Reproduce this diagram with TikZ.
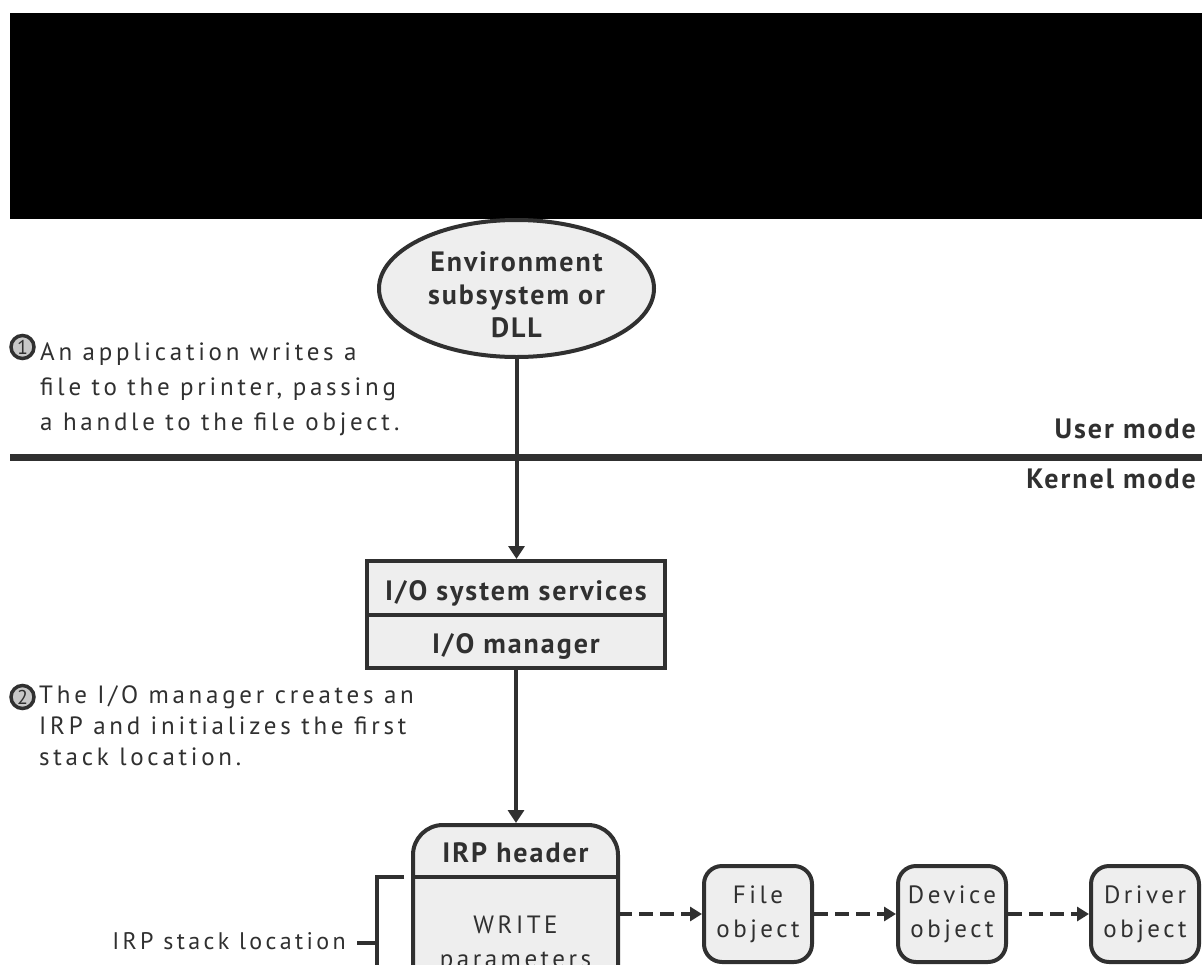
\documentclass[tikz,border=0pt]{standalone}
\usepackage{fontspec}
\setmainfont{PT Sans}[LetterSpace=7]
\newfontfamily\regfont[LetterSpace=14]{PT Sans}
\newfontfamily\stepfont[LetterSpace=15]{PT Sans}
\usetikzlibrary{arrows.meta,shapes.geometric}
\definecolor{ink}{HTML}{303030}
\definecolor{boxfill}{HTML}{EEEEEE}
\definecolor{stepfill}{HTML}{C8C8C8}
\begin{document}
\begin{tikzpicture}[x=1pt,y=-1pt,
  every node/.style={inner sep=0pt, text=ink},
  bfont/.style={font=\fontsize{28}{33}\selectfont\bfseries},
  rfont/.style={font=\regfont\fontsize{24}{35}\selectfont},
  sfont/.style={font=\stepfont\fontsize{25}{35}\selectfont},
  ofont/.style={font=\regfont\fontsize{25}{34}\selectfont},
  ln/.style={draw=ink, line width=4pt},
  iobox/.style={ln, fill=boxfill, rectangle, minimum width=298pt},
  objbox/.style={ln, fill=boxfill, rectangle, rounded corners=18pt, minimum width=108pt, minimum height=96pt, align=center, ofont},
  arr/.style={ln, -{Triangle[length=13pt,width=16pt]}},
  darr/.style={ln, dash pattern=on 14pt off 7pt, -{Triangle[length=12pt,width=14pt]}},
  stepcirc/.style={circle, draw=ink, line width=3.5pt, fill=stepfill, minimum size=23pt, font=\fontsize{20}{20}\selectfont}
]
\useasboundingbox (0,0) rectangle (1202,964);
\fill[white] (0,0) rectangle (1202,964);
% top black band
\fill[black] (10,13) rectangle (1202,219);

% environment subsystem ellipse
\node[ellipse, ln, fill=boxfill, minimum width=275pt, minimum height=137pt] (env) at (516.5,288.5) {};
\node[bfont, align=center, anchor=base] (envtxt) at (516.5,337) {Environment\\subsystem or\\DLL};

% mode separator
\coordinate (sepL) at (10,457);
\coordinate (sepR) at (1202,457);
\draw[draw=ink, line width=7pt] (sepL) -- (sepR);
\node[bfont, anchor=base east] (umode) at (1196,438) {User mode};
\node[bfont, anchor=base east] (kmode) at (1196,488) {Kernel mode};

% I/O boxes
\node[iobox, minimum height=54pt] (iosvc) at (516,588) {};
\node[iobox, minimum height=53pt] (iomgr) at (516,641.5) {};
\node[bfont, anchor=base] (iosvctxt) at (516,600) {I/O system services};
\node[bfont, anchor=base] (iomgrtxt) at (516,653) {I/O manager};

\draw[arr] (env.south) -- (env.south |- iosvc.north);

% IRP
\node[ln, fill=boxfill, rectangle, rounded corners=30pt, minimum width=205pt, minimum height=260pt, anchor=north] (irp) at (515.5,823) {};
\coordinate (divL) at (413,877);
\coordinate (divR) at (618,877);
\draw[ln] (divL) -- (divR);
\node[bfont, anchor=base] (irphdr) at (515.5,862) {IRP header};
\node[ofont, align=center, anchor=base] (irpwrite) at (515.5,967) {WRITE\\parameters};

\draw[arr] (iomgr.south) -- (iomgr.south |- irp.north);

% bracket
\coordinate (brTop) at (404,877);
\coordinate (brCorner) at (377,877);
\coordinate (brBot) at (377,1000);
\coordinate (brTick) at (377,943);
\coordinate (tickL) at (357,943);
\draw[ln] (brTop) -- (brCorner) -- (brBot);
\draw[ln] (tickL) -- (brTick);
\node[rfont, anchor=base east] (stackloc) at (346,949) {IRP stack location};

% objects
\node[objbox] (fileobj) at (758,914) {File\\object};
\node[objbox] (devobj) at (952,914) {Device\\object};
\node[objbox] (drvobj) at (1145,914) {Driver\\object};
\coordinate (irpR) at (618,914);
\draw[darr] (irpR) -- (fileobj.west);
\draw[darr] (fileobj.east) -- (devobj.west);
\draw[darr] (devobj.east) -- (drvobj.west);

% step annotations
\node[stepcirc] (s1) at (22.5,347) {1};
\node[sfont, align=left, anchor=base west] (s1txt) at (40,430) {An application writes a\\file to the printer, passing\\a handle to the file object.};
\node[stepcirc] (s2) at (22.5,697) {2};
\node[align=left, anchor=base west, font=\stepfont\fontsize{25}{31}\selectfont] (s2txt) at (39,765) {The I/O manager creates an\\IRP and initializes the first\\stack location.};
\end{tikzpicture}
\end{document}
